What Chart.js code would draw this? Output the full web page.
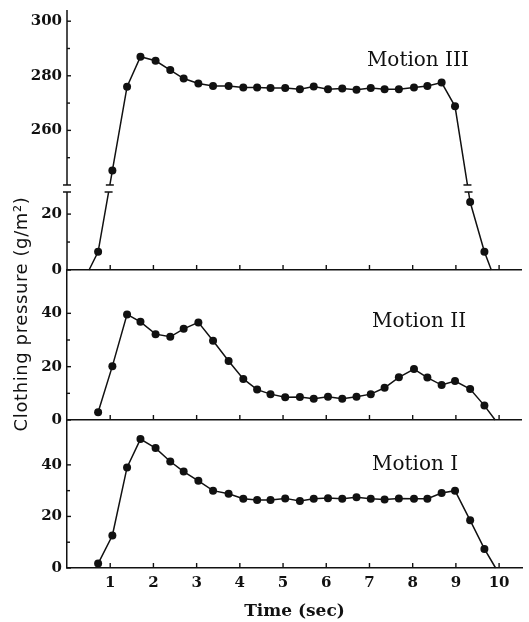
<!DOCTYPE html>
<html><head><meta charset="utf-8">
<script src="https://cdn.jsdelivr.net/npm/chart.js@4.4.1/dist/chart.umd.min.js"></script>
<style>html,body{margin:0;padding:0;background:#fff;}canvas{display:block;}</style>
</head><body>
<canvas id="chart" width="529" height="622"></canvas>
<script>
// ---------------- data ----------------
const times = [0.72,1.05,1.39,1.70,2.05,2.39,2.70,3.04,3.38,3.74,4.08,4.40,4.71,5.05,5.39,5.71,6.04,6.37,6.70,7.03,7.35,7.68,8.03,8.34,8.67,8.98,9.33,9.66];
const motionI   = [1.7,12.6,39.0,50.0,46.5,41.3,37.4,33.8,30.0,28.8,26.9,26.4,26.4,27.0,26.0,26.9,27.1,26.9,27.4,26.9,26.6,27.0,26.9,26.9,29.1,30.0,18.5,7.4];
const motionII  = [2.9,20.2,39.6,36.8,32.2,31.2,34.2,36.6,29.7,22.1,15.4,11.4,9.7,8.5,8.6,8.0,8.7,8.0,8.7,9.7,12.1,16.0,19.1,15.9,13.1,14.6,11.6,5.4];
const motionIII = [6.5,245.3,276.0,287.0,285.5,282.1,279.0,277.2,276.3,276.3,275.7,275.7,275.5,275.5,275.1,276.1,275.1,275.3,274.9,275.5,275.1,275.1,275.7,276.3,277.5,268.8,24.3,6.5];
const onsetIII = 0.51;                 // Motion III leaves the baseline
const endTimes = [9.92, 9.91, 9.82];   // Motion I, II, III return to 0
const seriesNames = ['Motion I', 'Motion II', 'Motion III'];

const xTicks = [1,2,3,4,5,6,7,8,9,10];
const yTicksI = [0,20,40],   yMinorI = [10,30];
const yTicksII = [0,20,40],  yMinorII = [10,30];
const yTicksIII = [0,20,260,280,300], yMinorIII = [10,250,270,290];
const breakRange = [27.9, 240];        // Motion III axis is broken between these values

// ---------------- style ----------------
const INK = '#111';
const AXIS_LEFT = 67;
const LOW_FRAC = 0.30, GAP_FRAC = 0.027;
const tickFont = { family: 'DejaVu Serif', weight: 'bold', size: 15 };

// broken linear scale for Motion III
class BrokenScale extends Chart.LinearScale {
  static id = 'broken';
  getPixelForValue(v) {
    if (v === null || v === undefined || isNaN(v)) return NaN;
    const [lo, hi] = breakRange, fl = LOW_FRAC, fg = GAP_FRAC, fu = 1 - fl - fg;
    let d;
    if (v <= lo) d = fl * (v - this.min) / (lo - this.min);
    else if (v >= hi) d = fl + fg + fu * (v - hi) / (this.max - hi);
    else d = fl + fg * (v - lo) / (hi - lo);
    return this.getPixelForDecimal(d);
  }
  getValueForPixel(p) {
    const d = this.getDecimalForPixel(p);
    const [lo, hi] = breakRange, fl = LOW_FRAC, fg = GAP_FRAC, fu = 1 - fl - fg;
    if (d <= fl) return this.min + d / fl * (lo - this.min);
    if (d >= fl + fg) return hi + (d - fl - fg) / fu * (this.max - hi);
    return lo + (d - fl) / fg * (hi - lo);
  }
}
Chart.register(BrokenScale);

function yScale(type, max, majors, minors, weight, stackWeight, baseline) {
  return {
    type, min: 0, max, position: 'left', stack: 'pressure', stackWeight, weight,
    afterBuildTicks: s => { s.ticks = majors.concat(minors).sort((a, b) => a - b).map(v => ({ value: v })); },
    afterFit: s => { s.width = AXIS_LEFT; s.paddingTop = 0; s.paddingBottom = 0; },
    ticks: { autoSkip: false, padding: 5, color: INK, font: tickFont,
             callback: v => majors.includes(v) ? String(v) : '' },
    grid: { display: baseline, drawTicks: false, lineWidth: 1.5,
            color: c => (c.tick && c.tick.value === 0) ? INK : 'rgba(0,0,0,0)' },
    border: { display: type !== 'broken', color: INK, width: 1.5 }
  };
}

function points(vals) { return times.map((t, i) => ({ x: t, y: vals[i] })); }
const ptsI = points(motionI).concat([{ x: endTimes[0], y: 0 }]);
const ptsII = points(motionII).concat([{ x: endTimes[1], y: 0 }]);
const ptsIII = [{ x: onsetIII, y: 0 }].concat(points(motionIII), [{ x: endTimes[2], y: 0 }]);

function ds(label, data, axis) {
  return { label, data, yAxisID: axis, xAxisID: 'x', borderColor: INK, borderWidth: 1.5,
    backgroundColor: INK, pointBackgroundColor: INK, pointBorderWidth: 0,
    pointRadius: c => (c.raw && c.raw.y === 0) ? 0 : 4, tension: 0, clip: false, fill: false };
}

// clip the Motion III line out of the axis-break band
const gapClip = {
  id: 'gapClip',
  beforeDatasetDraw(chart, args) {
    const s = args.meta.yScale;
    if (s.id !== 'yIII') return;
    const ctx = chart.ctx;
    const gTop = s.getPixelForValue(breakRange[1]), gBot = s.getPixelForValue(breakRange[0]);
    ctx.save(); ctx.beginPath();
    ctx.rect(0, 0, chart.width, gTop);
    ctx.rect(0, gBot, chart.width, chart.height - gBot);
    ctx.clip();
  },
  afterDatasetDraw(chart, args) { if (args.meta.yScale.id === 'yIII') chart.ctx.restore(); }
};

const labelSpots = [
  { axis: 'yI', t: 7.06, v: 40.0 },
  { axis: 'yII', t: 7.06, v: 36.7 },
  { axis: 'yIII', t: 6.94, v: 285.4 }
];

const decor = {
  id: 'decor',
  afterDraw(chart) {
    const { ctx, chartArea, scales } = chart;
    const L = chartArea.left, xs = scales.x;
    ctx.save();
    ctx.strokeStyle = INK; ctx.fillStyle = INK; ctx.lineWidth = 1.4;
    const seg = (x1, y1, x2, y2) => { ctx.beginPath(); ctx.moveTo(x1, y1); ctx.lineTo(x2, y2); ctx.stroke(); };
    const cfg = { yI: [yTicksI, yMinorI], yII: [yTicksII, yMinorII], yIII: [yTicksIII, yMinorIII] };
    for (const id of ['yI', 'yII', 'yIII']) {
      const s = scales[id];
      const [maj, min] = cfg[id];
      maj.forEach(v => { const y = s.getPixelForValue(v); seg(L, y, L + 4, y); });
      min.forEach(v => { const y = s.getPixelForValue(v); seg(L, y, L + 3, y); });
      const base = s.getPixelForValue(0);
      xTicks.forEach(t => { const x = xs.getPixelForValue(t); seg(x, base, x, base - 5); });
    }
    // broken axis for Motion III
    const s3 = scales.yIII;
    const gTop = s3.getPixelForValue(breakRange[1]), gBot = s3.getPixelForValue(breakRange[0]);
    ctx.lineWidth = 1.5;
    seg(L, s3.top, L, gTop); seg(L, gBot, L, s3.bottom);
    seg(L - 4, gTop, L + 4, gTop); seg(L - 4, gBot, L + 4, gBot);
    // break caps on the Motion III line
    const meta = chart.getDatasetMeta(2);
    const pts = meta.data;
    for (let i = 0; i < pts.length - 1; i++) {
      const a = pts[i], b = pts[i + 1];
      for (const g of [gTop, gBot]) {
        if ((a.y - g) * (b.y - g) < 0) {
          const x = a.x + (b.x - a.x) * (g - a.y) / (b.y - a.y);
          seg(x - 4, g, x + 4, g);
        }
      }
    }
    // series labels
    ctx.font = '20px "DejaVu Serif"';
    ctx.textAlign = 'left'; ctx.textBaseline = 'middle';
    labelSpots.forEach((p, i) => {
      ctx.fillText(seriesNames[i], xs.getPixelForValue(p.t), scales[p.axis].getPixelForValue(p.v));
    });
    // y axis title
    ctx.save();
    ctx.translate(22, scales.yII.top + 44);
    ctx.rotate(-Math.PI / 2);
    ctx.font = '18px "DejaVu Sans"';
    ctx.letterSpacing = '0.6px';
    ctx.textAlign = 'center'; ctx.textBaseline = 'middle';
    ctx.fillText('Clothing pressure (g/m²)', 0, 0);
    ctx.restore();
    ctx.restore();
  }
};

new Chart(document.getElementById('chart'), {
  type: 'line',
  data: { datasets: [ds(seriesNames[0], ptsI, 'yI'), ds(seriesNames[1], ptsII, 'yII'), ds(seriesNames[2], ptsIII, 'yIII')] },
  options: {
    responsive: false, animation: false, events: [],
    layout: { padding: { top: 10, right: 7, left: 0, bottom: 0 } },
    plugins: { legend: { display: false }, tooltip: { enabled: false } },
    scales: {
      x: {
        type: 'linear', min: 0, max: 10.53, position: 'bottom',
        afterBuildTicks: s => { s.ticks = xTicks.map(v => ({ value: v })); },
        afterFit: s => { s.height = 54; s.paddingLeft = 0; s.paddingRight = 0; },
        ticks: { autoSkip: false, maxRotation: 0, padding: 6, color: INK, font: tickFont },
        grid: { display: false, drawTicks: false },
        border: { display: true, color: INK, width: 1.5 },
        title: { display: true, text: 'Time (sec)', color: INK, padding: { top: 0, bottom: 0 },
                 font: { family: 'DejaVu Serif', weight: 'bold', size: 17 } }
      },
      yI: yScale('linear', 57.4, yTicksI, yMinorI, 1, 148, false),
      yII: yScale('linear', 56.25, yTicksII, yMinorII, 2, 150, true),
      yIII: yScale('broken', 304.1, yTicksIII, yMinorIII, 3, 260, true)
    }
  },
  plugins: [gapClip, decor]
});
</script>
</body></html>
